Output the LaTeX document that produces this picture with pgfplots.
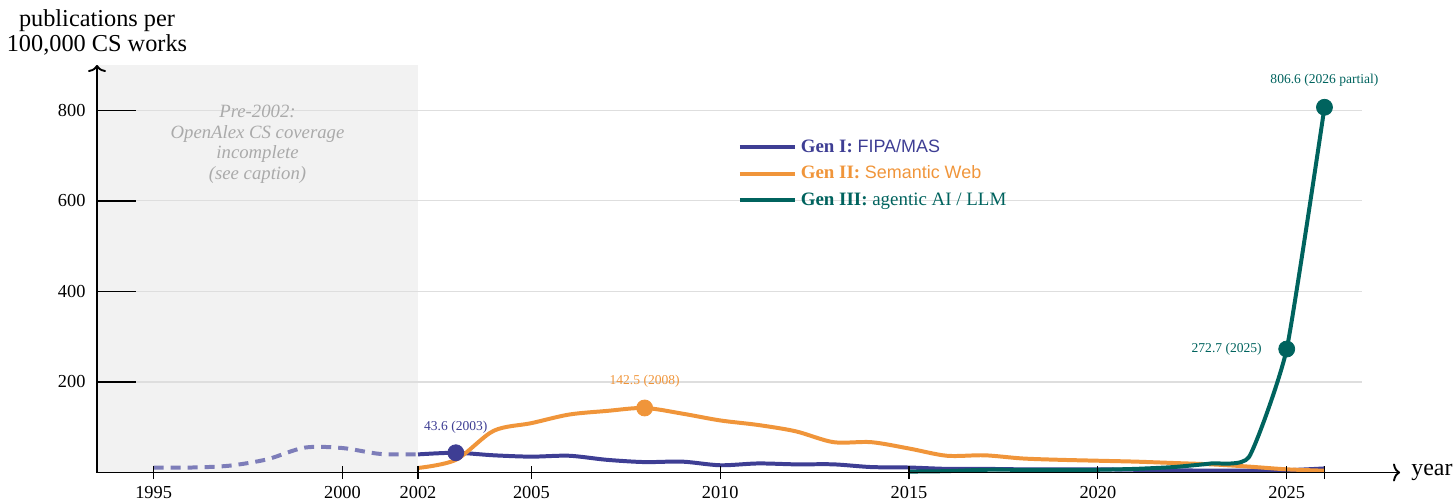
\documentclass[border=0pt]{standalone}
\usepackage{fontspec}
\setmainfont{Liberation Serif}
\setsansfont{Liberation Sans}
\usepackage{pgfplots}
\pgfplotsset{compat=1.18}
\usetikzlibrary{arrows.meta}
\definecolor{genI}{RGB}{62,62,148}
\definecolor{genII}{RGB}{240,149,58}
\definecolor{genIII}{RGB}{0,99,94}
\definecolor{dashc}{RGB}{125,125,185}
\definecolor{gridc}{RGB}{222,222,222}
\definecolor{shadec}{RGB}{242,242,242}
\definecolor{shadetxt}{RGB}{170,170,170}
\begin{document}
\begin{tikzpicture}
\begin{axis}[
  at={(0,0)}, anchor=south west,
  scale only axis, width=651.5bp, height=203.75bp,
  xmin=1993.5, xmax=2028, ymin=0, ymax=900,
  axis lines=left, axis on top,
  axis line style={line width=0.95pt, -{Computer Modern Rightarrow[length=3.5bp, width=9bp]}},
  xtick={1995,2000,2002,2005,2010,2015,2020,2025,2026},
  xticklabels={1995,2000,2002,2005,2010,2015,2020,2025,{}},
  ytick={200,400,600,800},
  tick align=center, major tick length=6.5bp,
  tick style={line width=0.6pt, black},
  ytick style={draw=none},
  ticklabel style={font=\fontsize{9.2}{10}\selectfont},
  yticklabel style={xshift=1bp},
  /pgf/number format/assume math mode=true,
  clip=false,
  legend cell align=left,
  legend image code/.code={\draw[#1, line width=2pt, solid] (0bp,0bp) -- (27.5bp,0bp);},
  legend style={draw=none, fill=none, inner sep=0pt,
    at={(axis description cs:0.4915,0.831)}, anchor=north west,
    row sep=0bp, column sep=0bp,
    nodes={inner sep=2bp, text height=7bp, text depth=2.2bp, font=\fontsize{9.5}{11}\selectfont}},
]
% shaded pre-2002 region
\fill[shadec] (axis cs:1993.5,0) rectangle (axis cs:2002,900);
% grid
\pgfplotsinvokeforeach{200,400,600,800}{
  \draw[gridc, line width=0.6pt] (axis cs:1993.5,#1) -- (axis cs:2027,#1);
  \draw[black, line width=0.75pt] (axis cs:1993.5,#1) -- (axis cs:1994.533,#1);
}
\node[shadetxt, align=center, anchor=north, font=\fontsize{9.4}{10.5}\selectfont\itshape]
  at (axis cs:1997.75,828) {Pre-2002:\\OpenAlex CS coverage\\incomplete\\(see caption)};

% Gen I pre-2002 (dashed)
\addplot[dashc, line width=2pt, dash pattern=on 5bp off 3.5bp, smooth, forget plot] coordinates {
(1995,11)(1996,11)(1997,15)(1998,29)(1999,55)(2000,54)(2001,41)(2002,40)};
% Gen I
\addplot[genI, line width=2pt, smooth] coordinates {
(2002,40)(2003,43.6)(2004,38)(2005,35)(2006,37)(2007,28)(2008,23)(2009,24)(2010,16)
(2011,20)(2012,18)(2013,18)(2014,12)(2015,11)(2016,8)(2017,8)(2018,7)(2019,7)
(2020,7)(2021,6)(2022,5)(2023,4)(2024,4)(2025,5)(2026,9)};
\addlegendentry{\textcolor{genI}{\textbf{Gen I:} {\sffamily\fontsize{9}{11}\selectfont FIPA/MAS}}}
% Gen II
\addplot[genII, line width=2pt, smooth] coordinates {
(2002,10)(2003,28)(2004,92)(2005,109)(2006,128)(2007,136)(2008,142.5)(2009,130)(2010,115)
(2011,105)(2012,91)(2013,67)(2014,67)(2015,53)(2016,37)(2017,38)(2018,31)(2019,28)
(2020,26)(2021,24)(2022,21)(2023,18)(2024,13)(2025,7)(2026,4)};
\addlegendentry{\textcolor{genII}{\textbf{Gen II:} {\sffamily\fontsize{9}{11}\selectfont Semantic Web}}}
% Gen III
\addplot[genIII, line width=2pt, smooth, tension=0.3] coordinates {
(2015,2)(2016,3)(2017,6)(2018,6)(2019,6)(2020,6)(2021,8)(2022,12)(2023,20)(2024,34)
(2025,272.7)(2026,806.6)};
\addlegendentry{\textcolor{genIII}{\textbf{Gen III:} agentic AI / LLM}}

% highlighted points
\addplot[only marks, mark=*, mark size=4bp, genI, forget plot] coordinates {(2003,43.6)};
\addplot[only marks, mark=*, mark size=4bp, genII, forget plot] coordinates {(2008,142.5)};
\addplot[only marks, mark=*, mark size=4bp, genIII, forget plot] coordinates {(2025,272.7)(2026,806.6)};

\node[genI, font=\fontsize{6.8}{8}\selectfont, yshift=13bp] at (axis cs:2003,43.6) {43.6 (2003)};
\node[genII, font=\fontsize{6.8}{8}\selectfont, yshift=13.5bp] at (axis cs:2008,142.5) {142.5 (2008)};
\node[genIII, font=\fontsize{6.8}{8}\selectfont, yshift=13.3bp] at (axis cs:2026,806.6) {806.6 (2026 partial)};
\node[genIII, font=\fontsize{6.8}{8}\selectfont, anchor=east, xshift=-9bp] at (axis cs:2025,272.7) {272.7 (2025)};

% axis labels
\node[anchor=west, font=\fontsize{12}{13}\selectfont, inner sep=0pt, xshift=5.5bp] at (axis cs:2028,0) {year};
\node[anchor=south, align=center, font=\fontsize{12.2}{12.7}\selectfont, inner sep=0pt, yshift=4.6bp] at (axis cs:1993.5,900) {publications per\\100,000 CS works};
\end{axis}
\pgfresetboundingbox
\useasboundingbox (-48.5bp,-14.75bp) rectangle (679.5bp,236.25bp);
\end{tikzpicture}
\end{document}
